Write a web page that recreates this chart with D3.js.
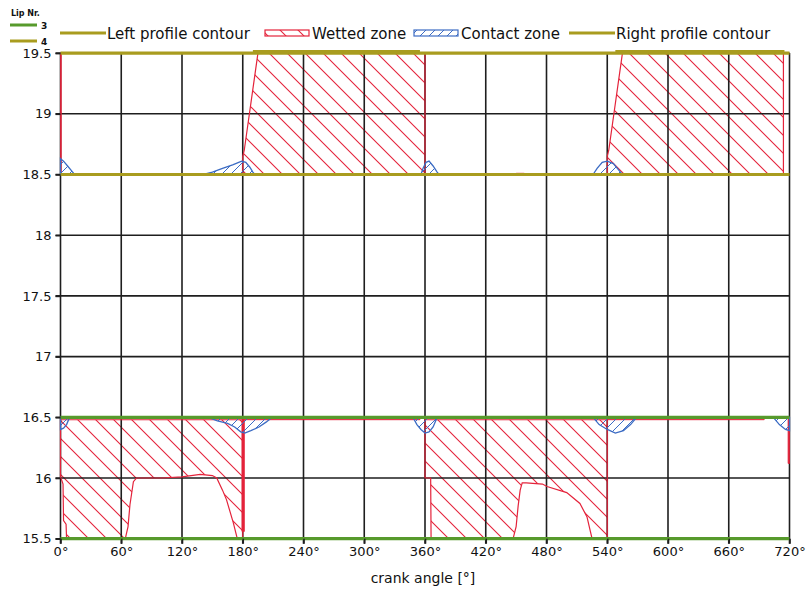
<!DOCTYPE html>
<html>
<head>
<meta charset="utf-8">
<script src="https://cdn.jsdelivr.net/npm/d3@7"></script>
<style>
  body { margin: 0; background: #fff; }
  svg { display: block; font-family: "DejaVu Sans", Verdana, sans-serif; }
</style>
</head>
<body>
<svg id="chart" width="811" height="590"></svg>
<script>
// ---- axis ticks ----
const angleTicks = [0, 60, 120, 180, 240, 300, 360, 420, 480, 540, 600, 660, 720];
const radiusTicks = [15.5, 16, 16.5, 17, 17.5, 18, 18.5, 19, 19.5];

// ---- lip contours (radius per lip) ----
const lipNumbers = ["3", "4"];
const lip3Contour = [15.5, 16.5];
const lip4Contour = [18.5, 19.5];
const rightContourSpans = [[190, 355], [548, 715]];   // crank-angle spans, lip 4 outer edge
const rightContourLevel = 19.512;

// ---- wetted zones: outlines as [crank angle, radius] ----
const wettedLip4First = [[180, 18.5], [180, 18.65], [181.5, 18.7], [195, 19.5], [360, 19.5], [360, 18.5]];
const wettedLip4Second = [[540, 18.5], [540, 18.65], [541.5, 18.7], [555, 19.5], [714, 19.5], [714, 18.5]];
const wettedLip4Start = [[0, 18.5], [0, 19.5], [0.8, 19.5], [0.8, 18.5]];
const wettedLip4Spot = [[450, 18.5], [450, 18.51], [458, 18.51], [458, 18.5]];
const wettedLip3First = [[0, 16.48], [180, 16.48], [180, 15.5], [174.6, 15.5], [170.7, 15.63], [164, 15.82],
  [160, 15.9], [154.3, 16.0], [150, 16.02], [138, 16.03], [120, 16.01], [100, 16.0], [75, 16.0], [72, 15.97],
  [68.6, 15.78], [66.7, 15.6], [64, 15.5], [6, 15.5], [5.5, 15.62], [3, 15.65], [2.5, 15.95], [0.5, 16.0], [0, 16.0]];
const wettedLip3Second = [[360, 16.48], [540, 16.48], [540, 15.5], [525, 15.5], [520, 15.68], [513, 15.79],
  [500, 15.88], [480.5, 15.93], [476, 15.95], [460, 15.96], [456, 15.96], [454, 15.9], [452, 15.77],
  [450, 15.6], [447, 15.5], [366, 15.5], [365.6, 16.0], [360, 16.0]];
const wettedLip3Strips = [
  [[180, 16.48], [355, 16.48], [355, 16.5], [180, 16.5]],
  [[540, 16.48], [695, 16.48], [695, 16.5], [540, 16.5]]
];
const wettedLip3Bars = [
  [[179.2, 16.48], [181.6, 16.48], [181.6, 15.56], [179.2, 15.56]],
  [[718.6, 16.5], [720, 16.5], [720, 16.12], [718.6, 16.12]]
];

// ---- contact zones: outlines as [crank angle, radius] ----
const contactZones = [
  [[0, 18.5], [0, 18.63], [3, 18.61], [7, 18.57], [11, 18.53], [14, 18.5]],
  [[141, 18.5], [150, 18.52], [160, 18.55], [170, 18.58], [176, 18.6], [179, 18.61], [183, 18.6], [187, 18.56], [190, 18.52], [192, 18.5]],
  [[356, 18.5], [358, 18.55], [361, 18.6], [364, 18.61], [368, 18.57], [372, 18.52], [374, 18.5]],
  [[526, 18.5], [530, 18.55], [535, 18.6], [540, 18.61], [546, 18.59], [551, 18.54], [555, 18.5]],
  [[0, 16.5], [0, 16.4], [3, 16.41], [6, 16.44], [9, 16.5]],
  [[146, 16.5], [155, 16.47], [165, 16.45], [172, 16.42], [178, 16.38], [182, 16.37], [188, 16.39], [196, 16.42], [203, 16.46], [209, 16.5]],
  [[348, 16.5], [352, 16.44], [356, 16.4], [360, 16.37], [364, 16.38], [368, 16.42], [372, 16.5]],
  [[526, 16.5], [532, 16.44], [540, 16.4], [548, 16.37], [556, 16.39], [563, 16.44], [569, 16.5]],
  [[704, 16.5], [710, 16.44], [716, 16.4], [720, 16.39], [720, 16.5]]
];

// ---- legend ----
const legendItems = [
  { label: "Left profile contour", kind: "line" },
  { label: "Wetted zone", kind: "wet" },
  { label: "Contact zone", kind: "contact" },
  { label: "Right profile contour", kind: "line" }
];

const colors = { grid: "#1e1e1e", green: "#579a2c", olive: "#a99c1f", red: "#e4233b", blue: "#3c6cc4", text: "#111" };

const svg = d3.select("#chart");
svg.append("rect").attr("width", 811).attr("height", 590).attr("fill", "#fff");

const x = d3.scaleLinear().domain([0, 720]).range([60.5, 789.5]);
const y = d3.scaleLinear().domain([15.5, 19.5]).range([538.7, 53.1]);

// hatch patterns
const defs = svg.append("defs");
const wetPat = defs.append("pattern").attr("id", "wetHatch").attr("patternUnits", "userSpaceOnUse")
  .attr("width", 18).attr("height", 18);
wetPat.append("path").attr("d", "M-2,-2 L20,20 M-2,16 L2,20 M16,-2 L20,2")
  .attr("stroke", colors.red).attr("stroke-width", 1.1);
const conPat = defs.append("pattern").attr("id", "conHatch").attr("patternUnits", "userSpaceOnUse")
  .attr("width", 9).attr("height", 9);
conPat.append("path").attr("d", "M-1,10 L10,-1 M-1,1 L1,-1 M8,10 L10,8")
  .attr("stroke", colors.blue).attr("stroke-width", 1);

const poly = d3.line().x(d => x(d[0])).y(d => y(d[1]));

// wetted zones: hatch fill
const wetHatched = [wettedLip4First, wettedLip4Second, wettedLip3First, wettedLip3Second];
svg.append("g").selectAll("path").data(wetHatched).join("path")
  .attr("d", d => poly(d) + "Z").attr("fill", "url(#wetHatch)");

// grid
const grid = svg.append("g").attr("stroke", colors.grid).attr("stroke-width", 1.6);
grid.selectAll("line.v").data(angleTicks).join("line").attr("class", "v")
  .attr("x1", d => x(d)).attr("x2", d => x(d)).attr("y1", y(19.5)).attr("y2", y(15.5) + 5);
grid.selectAll("line.h").data(radiusTicks).join("line").attr("class", "h")
  .attr("x1", x(0) - 5).attr("x2", x(720)).attr("y1", d => y(d)).attr("y2", d => y(d));

// wetted zones: outlines
svg.append("g").selectAll("path").data(wetHatched).join("path")
  .attr("d", d => poly(d) + "Z").attr("fill", "none").attr("stroke", colors.red).attr("stroke-width", 1.2);
svg.append("g").selectAll("path")
  .data([wettedLip4Start, wettedLip4Spot, ...wettedLip3Strips, ...wettedLip3Bars]).join("path")
  .attr("d", d => poly(d) + "Z").attr("fill", colors.red).attr("stroke", colors.red).attr("stroke-width", 0.8);

// contact zones
svg.append("g").selectAll("path").data(contactZones).join("path")
  .attr("d", d => poly(d) + "Z").attr("fill", "url(#conHatch)")
  .attr("stroke", colors.blue).attr("stroke-width", 1.3);

// lip contours
const contours = svg.append("g").attr("stroke-width", 3.2);
contours.selectAll("line.l3").data(lip3Contour).join("line").attr("class", "l3")
  .attr("x1", x(0)).attr("x2", x(720)).attr("y1", d => y(d)).attr("y2", d => y(d)).attr("stroke", colors.green);
contours.selectAll("line.l4").data(lip4Contour).join("line").attr("class", "l4")
  .attr("x1", x(0)).attr("x2", x(720)).attr("y1", d => y(d)).attr("y2", d => y(d)).attr("stroke", colors.olive);
contours.selectAll("line.r4").data(rightContourSpans).join("line").attr("class", "r4")
  .attr("x1", d => x(d[0])).attr("x2", d => x(d[1]))
  .attr("y1", y(rightContourLevel)).attr("y2", y(rightContourLevel)).attr("stroke", colors.olive);

// axes
const yAxis = svg.append("g").attr("transform", `translate(${x(0)},0)`)
  .call(d3.axisLeft(y).tickValues(radiusTicks).tickFormat(d3.format("~g")).tickSize(5).tickPadding(4));
const xAxis = svg.append("g").attr("transform", `translate(0,${y(15.5)})`)
  .call(d3.axisBottom(x).tickValues(angleTicks).tickFormat(d => d + "°").tickSize(5).tickPadding(3));
[xAxis, yAxis].forEach(a => {
  a.select(".domain").remove();
  a.selectAll(".tick line").attr("stroke", colors.grid).attr("stroke-width", 1.6);
  a.selectAll(".tick text").attr("fill", colors.text).attr("font-size", 13)
    .attr("font-family", "DejaVu Sans, Verdana, sans-serif");
});

svg.append("text").attr("x", 423).attr("y", 583).attr("text-anchor", "middle")
  .attr("font-size", 14).attr("fill", colors.text).text("crank angle [°]");

// lip number legend
svg.append("text").attr("x", 11).attr("y", 16).attr("font-size", 8).attr("font-weight", "bold")
  .attr("fill", colors.text).text("Lip Nr.");
const lipLegend = svg.append("g").selectAll("g").data(lipNumbers).join("g")
  .attr("transform", (d, i) => `translate(10,${25 + i * 16})`);
lipLegend.append("line").attr("x1", 0).attr("x2", 27).attr("y1", 0).attr("y2", 0)
  .attr("stroke", (d, i) => i === 0 ? colors.green : colors.olive).attr("stroke-width", 3);
lipLegend.append("text").attr("x", 31).attr("y", 4).attr("font-size", 9).attr("font-weight", "bold")
  .attr("fill", colors.text).text(d => d);

// series legend
const legendX = [60, 265, 414, 569];
const lg = svg.append("g").selectAll("g").data(legendItems).join("g")
  .attr("transform", (d, i) => `translate(${legendX[i]},33)`);
lg.filter(d => d.kind === "line").append("line").attr("x1", 0).attr("x2", 46).attr("y1", 0).attr("y2", 0)
  .attr("stroke", colors.olive).attr("stroke-width", 3);
lg.filter(d => d.kind !== "line").append("rect").attr("x", 0).attr("y", -3).attr("width", 44).attr("height", 6)
  .attr("fill", d => d.kind === "wet" ? "url(#wetHatch)" : "url(#conHatch)")
  .attr("stroke", d => d.kind === "wet" ? colors.red : colors.blue).attr("stroke-width", 1.2);
lg.append("text").attr("x", 47).attr("y", 5.5).attr("font-size", 15)
  .attr("fill", colors.text).text(d => d.label);
</script>
</body>
</html>
